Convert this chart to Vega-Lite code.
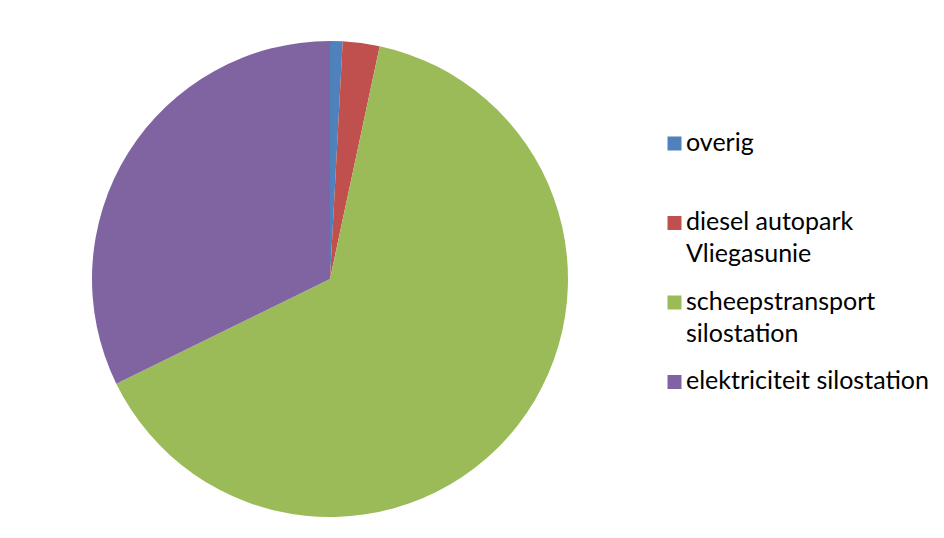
{
  "$schema": "https://vega.github.io/schema/vega-lite/v6.json",
  "width": 644,
  "height": 534,
  "autosize": {"type": "none"},
  "padding": {"left": 8, "top": 12, "right": 292, "bottom": 0},
  "background": "white",
  "config": {"view": {"stroke": null}},
  "data": {
    "values": [
      {"category": "overig", "share": 0.85, "order": 1},
      {"category": "diesel autopark Vliegasunie", "share": 2.5, "order": 2},
      {"category": "scheepstransport silostation", "share": 64.4, "order": 3},
      {"category": "elektriciteit silostation", "share": 32.25, "order": 4}
    ]
  },
  "mark": {"type": "arc", "outerRadius": 238},
  "encoding": {
    "theta": {"field": "share", "type": "quantitative", "stack": true},
    "order": {"field": "order", "type": "quantitative"},
    "color": {
      "field": "category",
      "type": "nominal",
      "scale": {
        "domain": ["overig", "diesel autopark Vliegasunie", "scheepstransport silostation", "elektriciteit silostation"],
        "range": ["#4F81BD", "#C0504D", "#9BBB59", "#8064A2"]
      },
      "legend": {
        "title": null,
        "orient": "none",
        "legendX": 654,
        "legendY": 119,
        "padding": 0,
        "symbolType": "square",
        "symbolSize": 196,
        "symbolStrokeWidth": 0,
        "labelFont": "Lato",
        "labelFontSize": 25,
        "labelColor": "black",
        "labelOffset": -1,
        "labelLimit": 400,
        "labelBaseline": "top",
        "rowPadding": 21.5,
        "labelExpr": "datum.label == 'overig' ? ['overig', ''] : datum.label == 'diesel autopark Vliegasunie' ? ['diesel autopark', 'Vliegasunie'] : datum.label == 'scheepstransport silostation' ? ['scheepstransport', 'silostation'] : ['elektriciteit silostation', '']",
        "encode": {"labels": {"update": {"lineHeight": {"value": 32}, "dy": {"value": -13}}}}
      }
    }
  }
}
